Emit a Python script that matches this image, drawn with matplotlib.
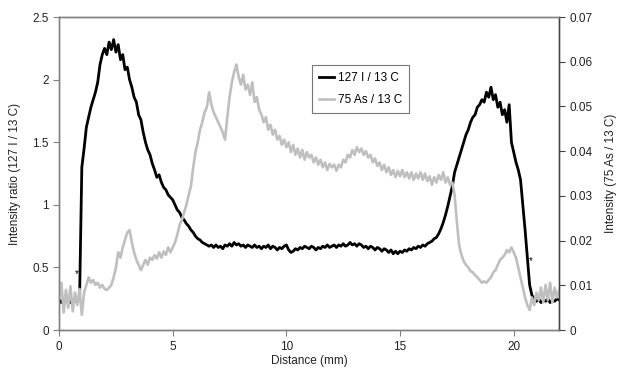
import numpy as np
import matplotlib
matplotlib.use("Agg")
import matplotlib.pyplot as plt

plt.rcParams['font.family'] = ['Liberation Sans', 'DejaVu Sans']

# distance sampling (mm), 0.1 mm steps from 0 to 22
distance = np.round(np.arange(0, 221) * 0.1, 1)

# 127 I / 13 C intensity ratio (left axis), rows of 1 mm
iodine_ratio = [
    0.24, 0.22, 0.25, 0.23, 0.25, 0.22, 0.24, 0.23, 0.25, 0.24,
    1.30, 1.45, 1.62, 1.70, 1.78, 1.84, 1.90, 1.98, 2.12, 2.20,
    2.25, 2.20, 2.30, 2.24, 2.32, 2.22, 2.28, 2.16, 2.20, 2.08,
    2.10, 2.00, 1.94, 1.86, 1.82, 1.72, 1.68, 1.58, 1.50, 1.44,
    1.40, 1.33, 1.28, 1.22, 1.24, 1.18, 1.14, 1.12, 1.08, 1.06,
    1.04, 1.00, 0.96, 0.94, 0.90, 0.88, 0.85, 0.83, 0.80, 0.78,
    0.75, 0.73, 0.72, 0.70, 0.69, 0.68, 0.67, 0.68, 0.66, 0.68,
    0.66, 0.67, 0.65, 0.68, 0.67, 0.69, 0.67, 0.70, 0.68, 0.69,
    0.67, 0.68, 0.66, 0.68, 0.67, 0.66, 0.68, 0.66, 0.67, 0.65,
    0.67, 0.66, 0.68, 0.65, 0.67, 0.66, 0.64, 0.66, 0.65, 0.67,
    0.68, 0.64, 0.62, 0.63, 0.65, 0.64, 0.66, 0.65, 0.67, 0.66,
    0.65, 0.67, 0.66, 0.64, 0.66, 0.65, 0.67, 0.66, 0.68, 0.66,
    0.67, 0.68, 0.66, 0.68, 0.67, 0.69, 0.67, 0.68, 0.70, 0.68,
    0.69, 0.67, 0.69, 0.68, 0.66, 0.67, 0.65, 0.67, 0.66, 0.64,
    0.66, 0.65, 0.63, 0.65, 0.64, 0.62, 0.64, 0.61, 0.63, 0.61,
    0.63, 0.62, 0.64, 0.63, 0.65, 0.64, 0.66, 0.65, 0.67, 0.66,
    0.68, 0.67, 0.69, 0.70, 0.71, 0.73, 0.74, 0.77, 0.81, 0.86,
    0.92, 0.99, 1.07, 1.15, 1.26, 1.32, 1.38, 1.44, 1.50, 1.56,
    1.60, 1.66, 1.70, 1.72, 1.78, 1.80, 1.84, 1.82, 1.90, 1.86,
    1.94, 1.84, 1.88, 1.78, 1.82, 1.72, 1.76, 1.66, 1.80, 1.50,
    1.42, 1.34, 1.28, 1.20, 1.00, 0.80, 0.58, 0.36, 0.28, 0.24,
    0.23, 0.25, 0.22, 0.24, 0.23, 0.25, 0.22, 0.24, 0.23, 0.25,
    0.24,
]

# 75 As / 13 C intensity (right axis), in units of 1e-3
arsenic_milli = [
    7.3, 10.6, 3.9, 9.0, 5.0, 9.8, 4.2, 8.4, 5.6, 9.2,
    3.4, 8.4, 10.1, 11.8, 10.6, 11.2, 10.1, 10.6, 9.5, 10.1,
    9.2, 9.0, 9.5, 10.1, 11.8, 14.0, 17.4, 16.2, 18.5, 20.2,
    21.8, 22.4, 19.6, 17.4, 15.7, 14.6, 13.4, 14.6, 15.7, 14.6,
    16.2, 15.7, 16.8, 16.0, 17.4, 16.2, 17.6, 16.8, 18.5, 17.4,
    18.5, 19.6, 21.3, 23.5, 24.6, 26.3, 28.0, 30.2, 32.2, 36.4,
    39.8, 42.0, 44.8, 46.5, 48.7, 49.8, 53.2, 50.4, 48.7, 47.6,
    46.5, 45.4, 44.2, 42.6, 47.6, 52.1, 55.4, 57.7, 59.4, 56.6,
    54.9, 57.1, 53.8, 54.9, 52.6, 55.4, 51.0, 52.1, 49.3, 48.2,
    46.5, 47.6, 44.8, 45.9, 43.7, 44.8, 42.6, 43.4, 41.4, 42.6,
    40.9, 42.0, 39.8, 41.4, 39.2, 40.6, 38.6, 40.3, 38.1, 39.8,
    38.6, 39.2, 37.5, 38.6, 37.0, 38.1, 36.4, 37.5, 35.8, 37.2,
    36.4, 37.0, 35.6, 37.0, 36.4, 38.1, 37.5, 39.2, 38.6, 40.3,
    39.2, 40.9, 39.8, 40.6, 39.2, 40.0, 38.6, 39.2, 37.5, 38.4,
    36.7, 37.5, 35.8, 37.0, 35.3, 36.4, 34.7, 35.8, 34.2, 35.6,
    34.4, 35.8, 34.2, 35.3, 33.9, 35.3, 33.6, 35.0, 33.9, 35.3,
    33.6, 35.0, 33.3, 34.4, 32.5, 34.2, 33.0, 34.7, 33.6, 35.3,
    33.0, 34.2, 32.5, 33.0, 30.2, 24.1, 19.0, 16.8, 15.4, 14.6,
    14.0, 13.2, 12.9, 12.3, 11.8, 11.2, 10.6, 10.9, 10.6, 11.2,
    11.8, 12.9, 13.4, 14.6, 15.7, 16.2, 16.8, 17.9, 17.4, 18.5,
    17.4, 16.2, 14.0, 11.8, 9.5, 7.3, 5.6, 4.5, 7.3, 5.6,
    8.4, 6.7, 9.5, 6.2, 10.1, 6.7, 10.6, 6.2, 9.5, 7.3,
    9.0,
]
arsenic = np.array(arsenic_milli) / 1000.0

x_ticks = [0, 5, 10, 15, 20]
left_ticks = [0, 0.5, 1, 1.5, 2, 2.5]
left_labels = ["0", "0.5", "1", "1.5", "2", "2.5"]
right_ticks = [0, 0.01, 0.02, 0.03, 0.04, 0.05, 0.06, 0.07]
right_labels = ["0", "0.01", "0.02", "0.03", "0.04", "0.05", "0.06", "0.07"]

# asterisk markers (distance, ratio)
star_x = [0.79, 20.73]
star_y = [0.45, 0.55]

fig = plt.figure(figsize=(6.22, 3.79), dpi=100)
ax = fig.add_axes([0.095, 0.129, 0.804, 0.826])
ax2 = ax.twinx()

l1, = ax.plot(distance, iodine_ratio, color='black', lw=2.0, label='127 I / 13 C')
l2, = ax2.plot(distance, arsenic, color='#bfbfbf', lw=1.9, label='75 As / 13 C')
for sx, sy in zip(star_x, star_y):
    ax.text(sx, sy, '*', fontsize=7, ha='center', va='center', color='black')

ax.set_xlim(0, 22)
ax.set_ylim(0, 2.5)
ax2.set_ylim(0, 0.07)
ax.set_xticks(x_ticks)
ax.set_xticklabels([str(t) for t in x_ticks])
ax.set_yticks(left_ticks)
ax.set_yticklabels(left_labels)
ax2.set_yticks(right_ticks)
ax2.set_yticklabels(right_labels)

for a in (ax, ax2):
    for s in a.spines.values():
        s.set_color('#808080')
        s.set_linewidth(1.0)
    a.tick_params(labelsize=8.5, colors='#222222', length=4, width=0.8,
                  direction='out')
ax2.spines['right'].set_color('#404040')
ax.tick_params(axis='both', color='#808080')
ax2.tick_params(axis='y', color='#404040')

ax.set_xlabel('Distance (mm)', fontsize=8.5, color='#222222', labelpad=2)
ax.set_ylabel('Intensity ratio (127 I / 13 C)', fontsize=8.5, color='#222222', labelpad=8)
ax2.set_ylabel('Intensity (75 As / 13 C)', fontsize=8.5, color='#222222', labelpad=9)

leg = ax2.legend(handles=[l1, l2], loc='upper left', bbox_to_anchor=(0.494, 0.865),
                 fontsize=8.5, frameon=True, fancybox=False, handlelength=1.3,
                 handletextpad=0.3, borderpad=0.6, labelspacing=0.8)
leg.get_frame().set_edgecolor('#555555')
leg.get_frame().set_linewidth(0.8)

fig.savefig('out.png', dpi=100)
